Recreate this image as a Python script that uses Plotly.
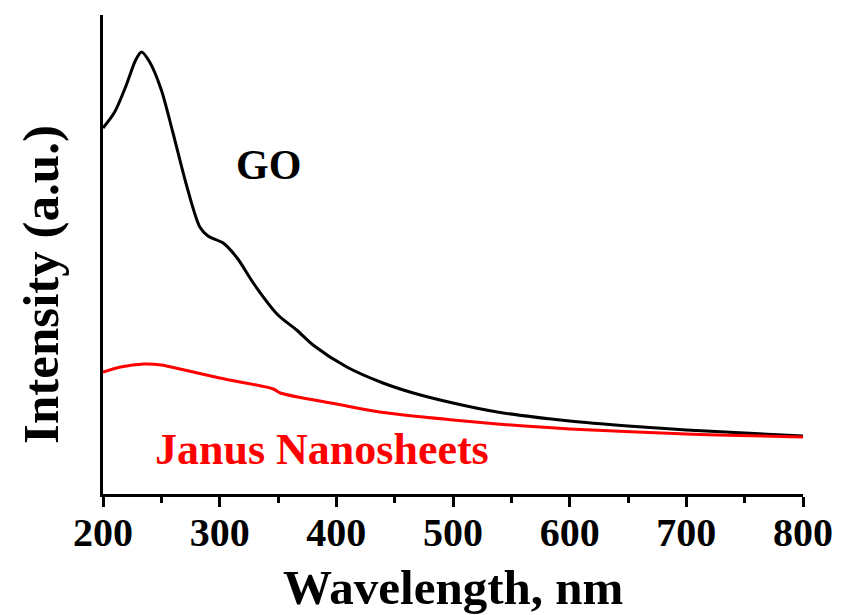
import plotly.graph_objects as go

# Wavelength (nm) and intensity (a.u.)
go_wavelength = [200, 210, 220, 228, 233, 240, 250, 260, 272, 283, 290, 303, 315, 330,
                 350, 366, 380, 409, 440, 466, 500, 538, 600, 650, 700, 750, 800]
go_intensity = [3.66, 3.82, 4.09, 4.34, 4.42, 4.32, 4.04, 3.61, 3.07, 2.67, 2.58, 2.51, 2.36, 2.09,
                1.79, 1.64, 1.49, 1.27, 1.11, 1.01, 0.91, 0.82, 0.73, 0.68, 0.64, 0.61, 0.58]

janus_wavelength = [200, 215, 235, 250, 266, 300, 346, 352, 400, 437, 500, 538, 600, 700, 800]
janus_intensity = [1.22, 1.27, 1.30, 1.29, 1.25, 1.16, 1.05, 1.01, 0.90, 0.82, 0.74, 0.70, 0.65, 0.60, 0.57]

x_ticks = [200, 300, 400, 500, 600, 700, 800]

FONT = "Liberation Serif"

fig = go.Figure()
fig.add_trace(go.Scatter(x=go_wavelength, y=go_intensity, mode="lines",
                         line=dict(color="black", width=3, shape="spline", smoothing=0.8),
                         name="GO", showlegend=False))
fig.add_trace(go.Scatter(x=janus_wavelength, y=janus_intensity, mode="lines",
                         line=dict(color="#ff0000", width=3, shape="spline", smoothing=0.8),
                         name="Janus Nanosheets", showlegend=False))

fig.update_layout(
    width=833, height=607,
    margin=dict(l=95, r=38, t=7, b=121),
    paper_bgcolor="white", plot_bgcolor="white",
    font=dict(family=FONT, color="black"),
    xaxis=dict(
        range=[200, 800], tickvals=x_ticks, ticktext=[str(v) for v in x_ticks],
        showline=True, linecolor="black", linewidth=3, mirror=False,
        ticks="outside", ticklen=10, tickwidth=3, tickcolor="black",
        minor=dict(dtick=50, ticks="outside", ticklen=6, tickwidth=3, tickcolor="black"),
        showgrid=False, zeroline=False, ticklabelstandoff=-9,
        tickfont=dict(family=FONT, size=40, color="black", weight="bold"),
    ),
    yaxis=dict(
        range=[0, 4.79], showline=True, linecolor="black", linewidth=3,
        showticklabels=False, ticks="", showgrid=False, zeroline=False,
    ),
    annotations=[
        dict(text="<b>Wavelength, nm</b>", xref="paper", yref="paper",
             x=0.5, y=-0.196, xanchor="center", yanchor="middle",
             showarrow=False, font=dict(family=FONT, size=49, color="black")),
        dict(text="<b>Intensity (a.u.)</b>", xref="paper", yref="paper",
             x=-0.089, y=0.438, xanchor="center", yanchor="middle", textangle=-90,
             showarrow=False, font=dict(family=FONT, size=51, color="black")),
        dict(text="<b>GO</b>", xref="paper", yref="paper", x=0.236, y=0.687,
             xanchor="center", yanchor="middle", showarrow=False,
             font=dict(family=FONT, size=42, color="black")),
        dict(text="<b>Janus Nanosheets</b>", xref="paper", yref="paper", x=0.313, y=0.092,
             xanchor="center", yanchor="middle", showarrow=False,
             font=dict(family=FONT, size=44, color="#ff0000")),
    ],
)

fig.write_html("out.html")
